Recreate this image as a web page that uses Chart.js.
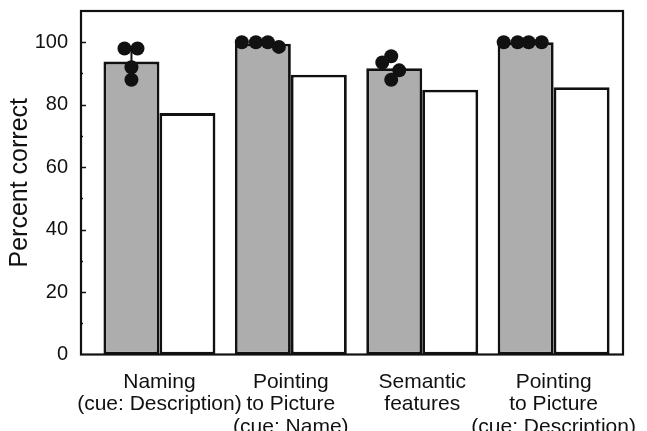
<!DOCTYPE html>
<html>
<head>
<meta charset="utf-8">
<script src="https://cdn.jsdelivr.net/npm/chart.js@4/dist/chart.umd.min.js"></script>
<style>
  html, body { margin: 0; padding: 0; background: #fff; }
  #wrap { width: 647px; height: 431px; }
</style>
</head>
<body>
<div id="wrap"><canvas id="c" width="647" height="431"></canvas></div>
<script>
// ---- data ----
const categories = [
  ["Naming", "(cue: Description)"],
  ["Pointing", "to Picture", "(cue: Name)"],
  ["Semantic", "features"],
  ["Pointing", "to Picture", "(cue: Description)"]
];
const grayValues  = [93.8, 99.5, 91.7, 100];
const whiteValues = [77.3, 89.6, 84.8, 85.6];
// individual points drawn over the gray bars
const dotValues = [
  [98, 98, 92, 88],
  [100, 100, 100, 98.5],
  [95.5, 93.5, 91, 88],
  [100, 100, 100, 100]
];
// horizontal jitter of each point (category units, relative to the gray bar centre)
const dotJitter = [
  [-0.053, 0.046, 0, 0],
  [-0.16, -0.053, 0.038, 0.122],
  [-0.023, -0.091, 0.038, -0.023],
  [-0.167, -0.061, 0.023, 0.122]
];
const errHigh = [98, null, null, null];
const yTicks = [0, 20, 40, 60, 80, 100];

// ---- build datasets ----
const grayOffset = -0.213; // gray bar centre relative to group centre (half a bar)
const dots = [];
dotValues.forEach((arr, i) => arr.forEach((v, k) => dots.push({ x: i + grayOffset + dotJitter[i][k], y: v })));
const stem = [];
errHigh.forEach((v, i) => { if (v != null) { stem.push({ x: i + grayOffset, y: grayValues[i] }, { x: i + grayOffset, y: v }); } });

const frame = {
  id: 'frame',
  afterDraw(chart) {
    const { ctx, chartArea: a, scales } = chart;
    ctx.save();
    ctx.strokeStyle = '#111';
    ctx.lineWidth = 2.2;
    ctx.strokeRect(a.left, a.top, a.right - a.left, a.bottom - a.top);
    // inward ticks on the y axis
    const y = scales.y;
    ctx.lineWidth = 1.5;
    for (let v = 10; v <= 100; v += 10) {
      const py = Math.round(y.getPixelForValue(v)) + 0.5;
      const len = (v % 20 === 0) ? 5 : 2;
      ctx.beginPath();
      ctx.moveTo(a.left, py);
      ctx.lineTo(a.left + len, py);
      ctx.stroke();
    }
    ctx.restore();
  }
};

new Chart(document.getElementById('c'), {
  type: 'bar',
  data: {
    datasets: [
      {
        type: 'scatter',
        data: dots,
        order: 0,
        pointRadius: 7,
        pointBackgroundColor: '#111',
        pointBorderColor: '#111',
        pointBorderWidth: 0
      },
      {
        type: 'line',
        data: stem,
        order: 1,
        borderColor: '#111',
        borderWidth: 2,
        pointRadius: 0
      },
      {
        data: grayValues.map((v, i) => ({ x: i, y: v })),
        order: 2,
        backgroundColor: '#adadad',
        borderColor: '#111',
        borderWidth: 2.8,
        borderSkipped: false,
        categoryPercentage: 0.852,
        barPercentage: 1.0
      },
      {
        data: whiteValues.map((v, i) => ({ x: i, y: v })),
        order: 3,
        backgroundColor: '#ffffff',
        borderColor: '#111',
        borderWidth: 2.8,
        borderSkipped: false,
        categoryPercentage: 0.852,
        barPercentage: 1.0
      }
    ]
  },
  options: {
    responsive: false,
    animation: false,
    devicePixelRatio: 1,
    layout: { padding: { left: 0, right: 24, top: 11, bottom: 0 } },
    plugins: { legend: { display: false }, tooltip: { enabled: false } },
    scales: {
      x: {
        type: 'linear',
        min: -0.597,
        max: 3.528,
        offset: false,
        grid: { display: false, drawTicks: false },
        border: { display: false },
        afterFit(s) { s.height = 76.5; s.paddingLeft = 0; s.paddingRight = 0; },
        afterBuildTicks(s) { s.ticks = categories.map((c, i) => ({ value: i })); },
        ticks: {
          autoSkip: false,
          maxRotation: 0,
          padding: 16,
          color: '#111',
          font: { family: 'Liberation Sans, Arial, sans-serif', size: 21, lineHeight: 1.08 },
          callback: (v) => categories[v] || ''
        }
      },
      y: {
        min: 0,
        max: 110,
        grid: { display: false, drawTicks: false },
        border: { display: false },
        afterFit(s) { s.width = 81; s.paddingTop = 0; s.paddingBottom = 0; },
        afterBuildTicks(s) { s.ticks = yTicks.map(v => ({ value: v })); },
        ticks: {
          padding: 13,
          color: '#111',
          font: { family: 'Liberation Sans, Arial, sans-serif', size: 20 }
        },
        title: {
          display: true,
          text: 'Percent correct',
          color: '#111',
          padding: { top: 5, bottom: 0 },
          font: { family: 'Liberation Sans, Arial, sans-serif', size: 25 }
        }
      }
    }
  },
  plugins: [frame]
});
</script>
</body>
</html>
